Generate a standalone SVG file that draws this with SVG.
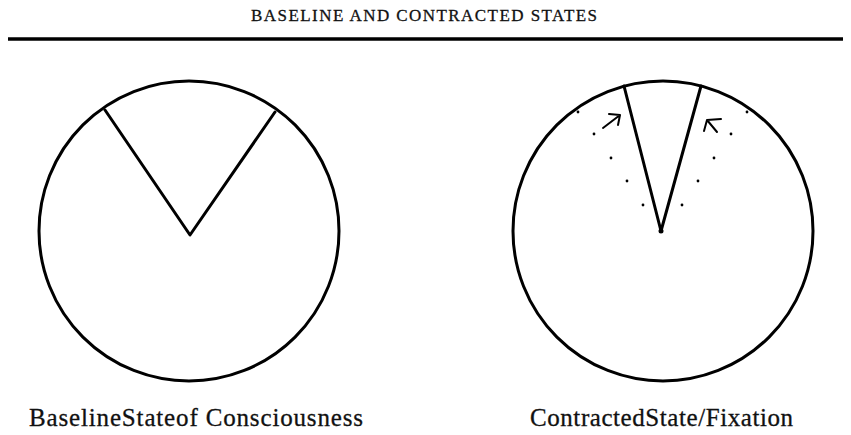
<svg xmlns="http://www.w3.org/2000/svg" width="851" height="435" viewBox="0 0 851 435">
<style>
.ln{fill:none;stroke:#000;stroke-width:3;stroke-linejoin:round;stroke-linecap:round}
.ar{fill:none;stroke:#000;stroke-width:2;stroke-linecap:round;stroke-linejoin:round}
.dot{fill:#000}
.title{font-family:"Liberation Serif",serif;font-size:17px;fill:#111;stroke:#111;stroke-width:0.3}
.lbl{font-family:"Liberation Serif",serif;font-size:25px;fill:#111;stroke:#111;stroke-width:0.3}
</style>
<rect width="851" height="435" fill="#fff"/>
<text class="title" x="251" y="21" textLength="346" lengthAdjust="spacing">BASELINE  AND  CONTRACTED  STATES</text>
<line x1="8" y1="39" x2="843" y2="39" stroke="#000" stroke-width="3.5"/>
<g id="baseline">
<circle class="ln" cx="189" cy="231" r="150"/>
<polyline class="ln" points="105,110 190,235 275,112"/>
<text class="lbl" x="29" y="426" textLength="334" lengthAdjust="spacing">BaselineStateof Consciousness</text>
</g>
<g id="contracted">
<circle class="ln" cx="663" cy="231" r="150"/>
<polyline class="ln" points="624,86 661,231 701,86"/>
<circle class="dot" cx="661" cy="231" r="2.5"/>
<g class="dots">
<circle class="dot" cx="578" cy="112" r="1.4"/>
<circle class="dot" cx="594" cy="134" r="1.4"/>
<circle class="dot" cx="611" cy="158" r="1.4"/>
<circle class="dot" cx="627" cy="181" r="1.4"/>
<circle class="dot" cx="643" cy="205" r="1.4"/>
<circle class="dot" cx="747" cy="112" r="1.4"/>
<circle class="dot" cx="731" cy="134" r="1.4"/>
<circle class="dot" cx="714" cy="158" r="1.4"/>
<circle class="dot" cx="698" cy="181" r="1.4"/>
<circle class="dot" cx="682" cy="205" r="1.4"/>
</g>
<text class="lbl" x="530" y="426" textLength="263" lengthAdjust="spacing">ContractedState/Fixation</text>
</g>
<g id="connectors">
<path class="ar" d="M603,128 L620,115 M609,114 L620,115 L618,125"/>
<path class="ar" d="M717,132 L707,120 M707,120 L721,119 M707,120 L704,131"/>
</g>
</svg>
